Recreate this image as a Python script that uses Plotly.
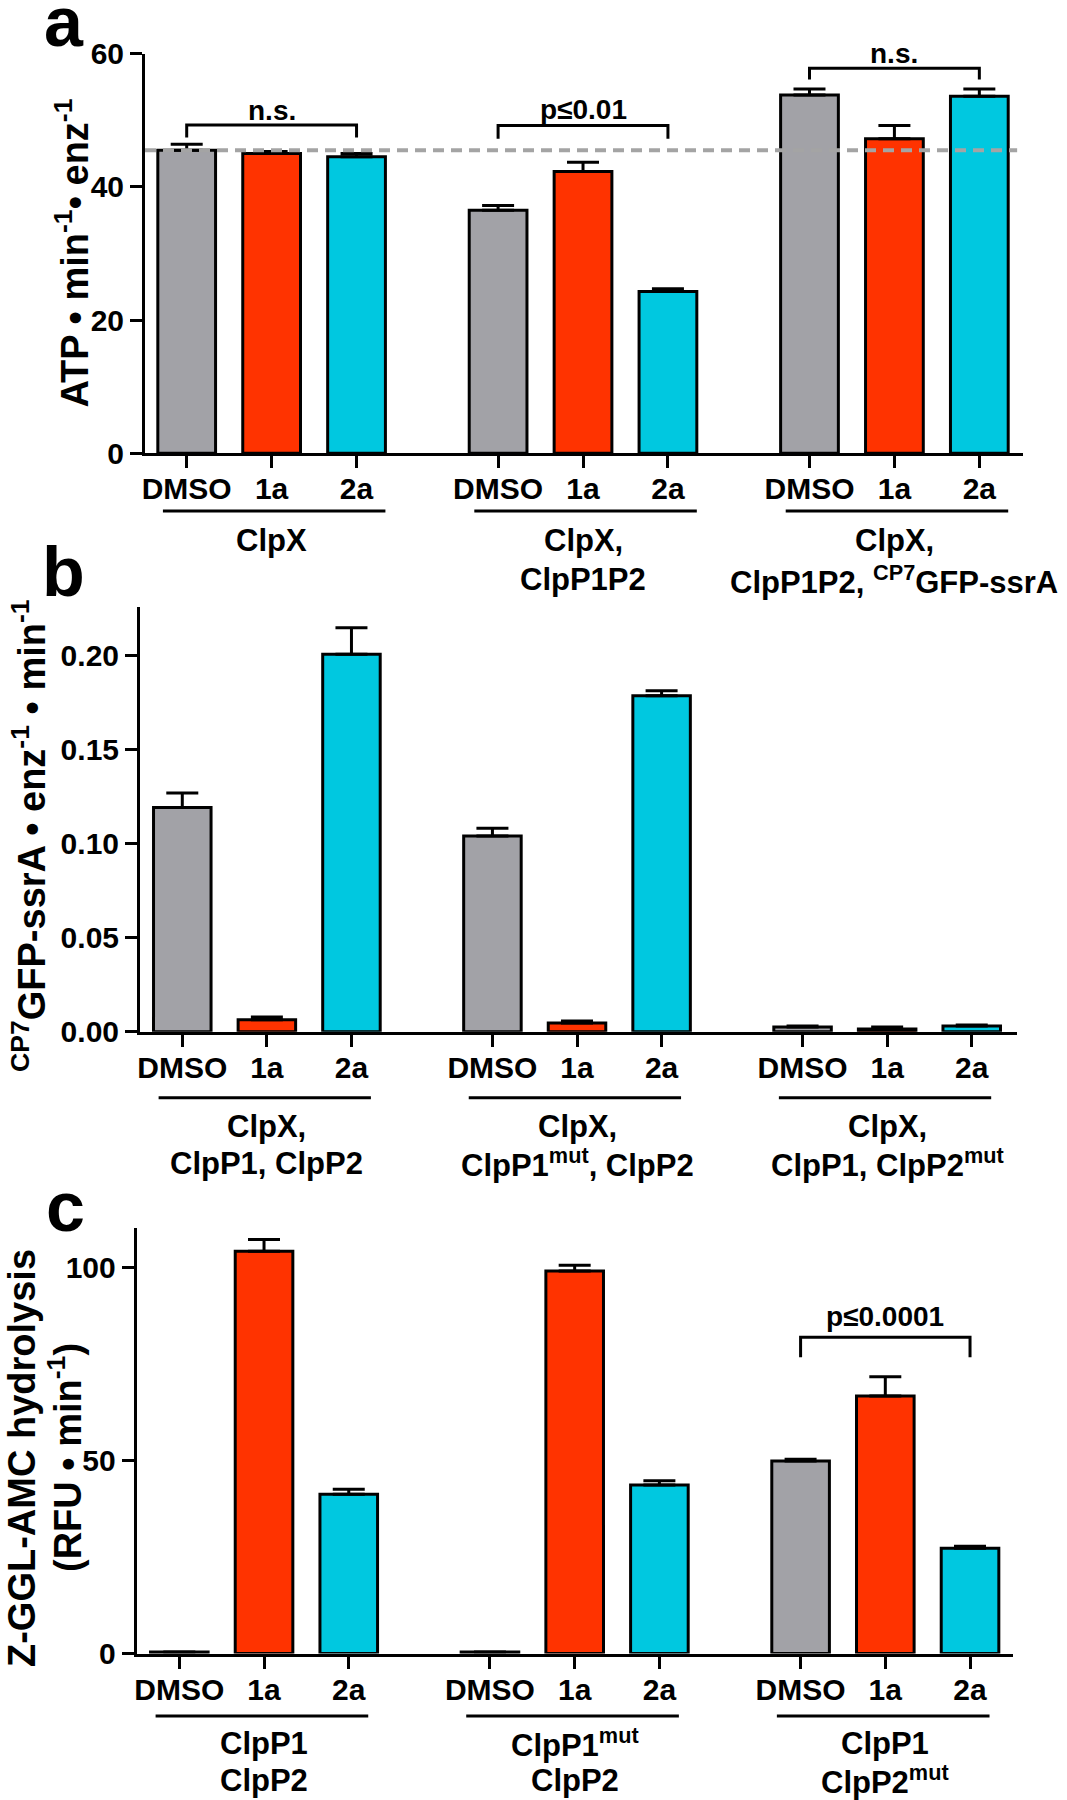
import plotly.graph_objects as go

# ---------------- data ----------------
conditions = ["DMSO", "1a", "2a"]
tick_labels = conditions * 3
bar_colors = ["#A2A2A7", "#FF3300", "#00C8E0"] * 3

# panel a: ATP hydrolysis
a_values = [45.5, 45.0, 44.5, 36.5, 42.3, 24.3, 53.8, 47.2, 53.6]
a_errors = [0.9, 0.3, 0.5, 0.7, 1.4, 0.4, 0.9, 2.0, 1.1]
a_reference = 45.5
a_groups = [["ClpX"], ["ClpX,", "ClpP1P2"], ["ClpX,", "ClpP1P2, <sup>CP7</sup>GFP-ssrA"]]

# panel b: GFP-ssrA degradation
b_values = [0.119, 0.0063, 0.2004, 0.1039, 0.0046, 0.1784, 0.0025, 0.0015, 0.0030]
b_errors = [0.0077, 0.0015, 0.0141, 0.0041, 0.0011, 0.0026, 0.0005, 0.0010, 0.0006]
b_groups = [["ClpX,", "ClpP1, ClpP2"], ["ClpX,", "ClpP1<sup>mut</sup>, ClpP2"],
            ["ClpX,", "ClpP1, ClpP2<sup>mut</sup>"]]

# panel c: Z-GGL-AMC hydrolysis
c_values = [0.4, 104.3, 41.3, 0.4, 99.2, 43.7, 49.9, 66.8, 27.3]
c_errors = [0.0, 3.1, 1.3, 0.0, 1.5, 1.1, 0.5, 5.0, 0.5]
c_groups = [["ClpP1", "ClpP2"], ["ClpP1<sup>mut</sup>", "ClpP2"], ["ClpP1", "ClpP2<sup>mut</sup>"]]

# ---------------- layout helpers ----------------
W, H = 1067, 1800
FONT = "Liberation Sans, Arial, sans-serif"


def px(x):
    return x / W


def py(y):
    return 1 - y / H


positions = [g * 11 / 3 + i for g in range(3) for i in range(3)]
group_starts = [g * 11 / 3 for g in range(3)]

panels = [
    dict(key="", vals=a_values, errs=a_errors, groups=a_groups,
         xdom=(145, 1023.3), xr=(-0.491, 9.851), ydom=(453.3, 53.6), yr=(0, 60),
         yt=[0, 20, 40, 60], ytt=["0", "20", "40", "60"],
         uline=511, ul=(-0.28, 2.34), glines=(540, 580)),
    dict(key="2", vals=b_values, errs=b_errors, groups=b_groups,
         xdom=(140, 1016.7), xr=(-0.500, 9.865), ydom=(1031.7, 606.7), yr=(0, 0.2257),
         yt=[0, 0.05, 0.10, 0.15, 0.20], ytt=["0.00", "0.05", "0.10", "0.15", "0.20"],
         uline=1097.7, ul=(-0.28, 2.23), glines=(1126.7, 1163)),
    dict(key="3", vals=c_values, errs=c_errors, groups=c_groups,
         xdom=(136.7, 1012.7), xr=(-0.503, 9.837), ydom=(1653.5, 1228.2), yr=(0, 110.3),
         yt=[0, 50, 100], ytt=["0", "50", "100"],
         uline=1716, ul=(-0.28, 2.23), glines=(1743.3, 1780)),
]

fig = go.Figure()
shapes = []
annotations = []

axis_style = dict(showline=True, linewidth=3, linecolor="black", ticks="outside",
                  ticklen=12, tickwidth=3, tickcolor="black", showgrid=False,
                  zeroline=False, fixedrange=True, automargin=False,
                  tickfont=dict(family=FONT, size=30, color="black", weight="bold"))

for p in panels:
    k = p["key"]
    xa, ya = "x" + k, "y" + k
    fig.add_trace(go.Bar(
        x=positions, y=p["vals"], width=0.68, xaxis=xa, yaxis=ya, showlegend=False,
        hoverinfo="skip",
        marker=dict(color=bar_colors, line=dict(color="black", width=3)),
        error_y=dict(type="data", array=p["errs"], arrayminus=[0] * len(p["errs"]),
                     symmetric=False, color="black", thickness=3, width=16),
    ))
    fig.layout["xaxis" + k] = dict(
        axis_style, domain=[px(p["xdom"][0]), px(p["xdom"][1])], range=list(p["xr"]),
        anchor=ya, tickvals=positions, ticktext=tick_labels, ticklabelstandoff=-5)
    fig.layout["yaxis" + k] = dict(
        axis_style, domain=[py(p["ydom"][0]), py(p["ydom"][1])], range=list(p["yr"]),
        anchor=xa, tickvals=p["yt"], ticktext=p["ytt"], ticklabelstandoff=0)

    for gi, g0 in enumerate(group_starts):
        shapes.append(dict(type="line", xref=xa, yref="paper",
                           x0=g0 + p["ul"][0], x1=g0 + p["ul"][1],
                           y0=py(p["uline"]), y1=py(p["uline"]),
                           line=dict(color="black", width=3)))
        lines = p["groups"][gi]
        for li, txt in enumerate(lines):
            annotations.append(dict(xref=xa, yref="paper", x=g0 + 1, y=py(p["glines"][li]),
                                    text="<b>%s</b>" % txt, showarrow=False,
                                    xanchor="center", yanchor="middle",
                                    font=dict(family=FONT, size=31, color="black")))

# dashed reference line (panel a)
shapes.append(dict(type="line", xref="x domain", yref="y", x0=0, x1=0.993,
                   y0=a_reference, y1=a_reference, layer="above",
                   line=dict(color="#A4A4A4", width=4, dash="11px,7px")))

# significance brackets
brackets = [
    ("x", "y", 0, 2, 49.3, 47.4, "n.s.", 51.4),
    ("x", "y", 11 / 3, 11 / 3 + 2, 49.2, 47.2, "p≤0.01", 51.6),
    ("x", "y", 22 / 3, 22 / 3 + 2, 57.8, 56.1, "n.s.", 60.0),
    ("x3", "y3", 22 / 3, 22 / 3 + 2, 82.0, 76.8, "p≤0.0001", 87.4),
]
for xa, ya, x0, x1, ytop, yleg, txt, ytxt in brackets:
    shapes.append(dict(type="path", xref=xa, yref=ya,
                       path="M %f,%f L %f,%f L %f,%f L %f,%f" % (x0, yleg, x0, ytop, x1, ytop, x1, yleg),
                       line=dict(color="black", width=3)))
    annotations.append(dict(xref=xa, yref=ya, x=(x0 + x1) / 2, y=ytxt, text="<b>%s</b>" % txt,
                            showarrow=False, xanchor="center", yanchor="middle",
                            font=dict(family=FONT, size=28, color="black")))

# y-axis titles
ytitles = [
    (72, 253.5, "ATP • min<sup>-1</sup>• enz<sup>-1</sup>", 38),
    (29, 836, "<sup>CP7</sup>GFP-ssrA • enz<sup>-1</sup> • min<sup>-1</sup>", 38),
    (22, 1458, "Z-GGL-AMC hydrolysis", 38),
    (65, 1458, "(RFU • min<sup>-1</sup>)", 38),
]
for x, y, txt, size in ytitles:
    annotations.append(dict(xref="paper", yref="paper", x=px(x), y=py(y), text="<b>%s</b>" % txt,
                            textangle=-90, showarrow=False, xanchor="center", yanchor="middle",
                            font=dict(family=FONT, size=size, color="black")))

# panel letters
for x, y, letter in [(64, 22, "a"), (63, 572, "b"), (65, 1207, "c")]:
    annotations.append(dict(xref="paper", yref="paper", x=px(x), y=py(y), text="<b>%s</b>" % letter,
                            showarrow=False, xanchor="center", yanchor="middle",
                            font=dict(family=FONT, size=70, color="black")))

fig.update_layout(template="none", width=W, height=H,
                  margin=dict(l=0, r=0, t=0, b=0, pad=0, autoexpand=False),
                  paper_bgcolor="white", plot_bgcolor="white", hovermode=False,
                  shapes=shapes, annotations=annotations, bargap=0)

fig.write_html("out.html", config={"displayModeBar": False, "staticPlot": True},
               post_script="document.body.style.margin='0px';")
